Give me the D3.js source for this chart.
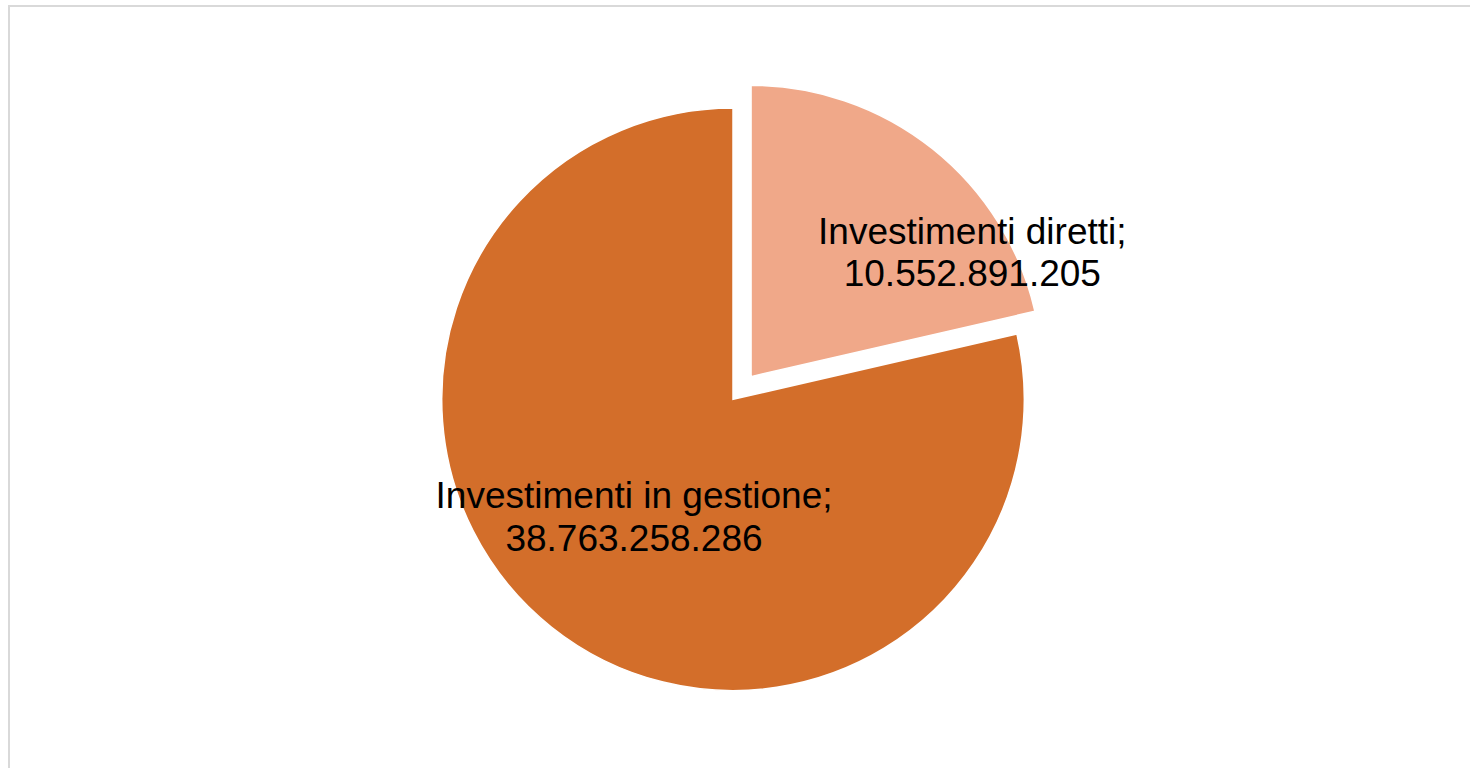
<!DOCTYPE html>
<html>
<head>
<meta charset="utf-8">
<script src="https://cdn.jsdelivr.net/npm/d3@7"></script>
<style>
html,body{margin:0;padding:0;background:#fff;}
svg{display:block;}
</style>
</head>
<body>
<svg id="chart" width="1470" height="768"></svg>
<script>
const categories = ["Investimenti diretti", "Investimenti in gestione"];
const values = [10552891205, 38763258286];
const valueLabels = ["10.552.891.205", "38.763.258.286"];
const colors = ["#F0A889", "#D36E2A"];
const explode = [29, 0];
// label placement: [angle in degrees clockwise from top, distance as fraction of radius]
const labelPolar = [[60.4, 0.872], [220.5, 0.53]];

const W = 1470, H = 768;
const cx = 733, cy = 399.3, R = 291.3;
const fontSize = 37, lineH = 42.4;

const svg = d3.select("#chart");

svg.append("rect")
  .attr("x", 9).attr("y", 6)
  .attr("width", W + 10).attr("height", H + 10)
  .attr("fill", "#fff")
  .attr("stroke", "#d9d9d9").attr("stroke-width", 2);

const pie = d3.pie().sort(null).value(d => d)(values);
const arc = d3.arc().innerRadius(0).outerRadius(R);

const g = svg.append("g").attr("transform", `translate(${cx},${cy})`);

const slices = g.selectAll("g.slice").data(pie).join("g")
  .attr("class", "slice")
  .attr("transform", (d, i) => {
    const mid = (d.startAngle + d.endAngle) / 2;
    const [x, y] = d3.pointRadial(mid, explode[i]);
    return `translate(${x},${y})`;
  });

slices.append("path")
  .attr("d", arc)
  .attr("fill", (d, i) => colors[i])
  .attr("stroke", "#fff")
  .attr("stroke-width", 1.5)
  .attr("stroke-linejoin", "miter");

slices.each(function(d, i) {
  const [a, f] = labelPolar[i];
  const [lx, ly] = d3.pointRadial(a * Math.PI / 180, f * 290.5);
  const t = d3.select(this).append("text")
    .attr("text-anchor", "middle")
    .attr("font-family", "Liberation Sans, Arial, sans-serif")
    .attr("font-size", fontSize)
    .attr("fill", "#000");
  const base1 = ly - lineH / 2 + fontSize * 0.358;
  t.append("tspan").attr("x", lx + 1).attr("y", base1).text(categories[i] + ";");
  t.append("tspan").attr("x", lx + 1).attr("y", base1 + lineH).text(valueLabels[i]);
});
</script>
</body>
</html>
